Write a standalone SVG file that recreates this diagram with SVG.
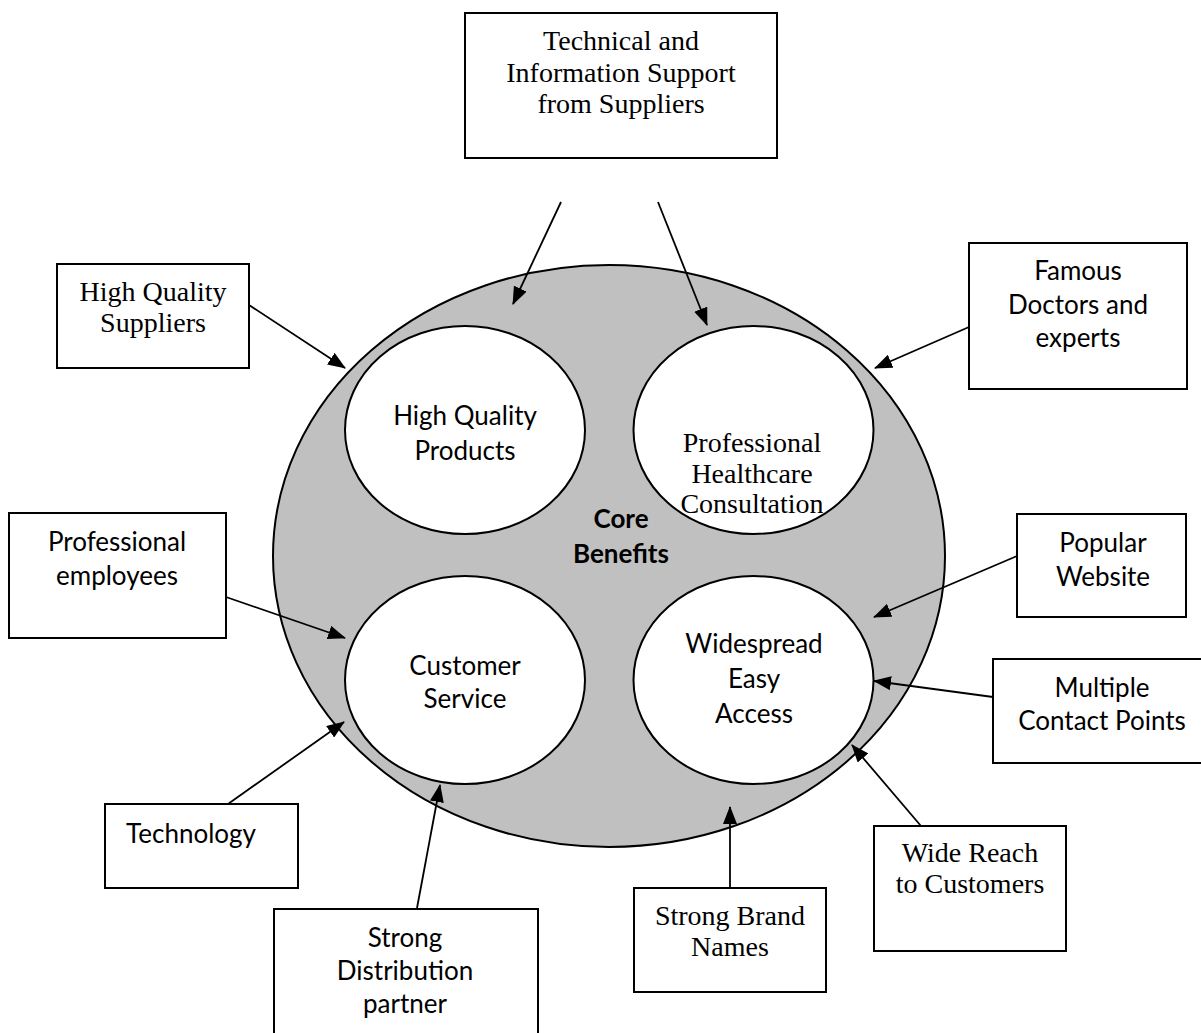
<svg xmlns="http://www.w3.org/2000/svg" width="1201" height="1033" viewBox="0 0 1201 1033">
  <style>
    .box { fill: #ffffff; stroke: #000000; stroke-width: 2; }
    .core { fill: #c0c0c0; stroke: #000000; stroke-width: 2; }
    .benefit { fill: #ffffff; stroke: #000000; stroke-width: 2; }
    .link { stroke: #000000; stroke-width: 1.8; fill: none; marker-end: url(#head); }
    .serif { font-family: "Liberation Serif", "Times New Roman", serif; font-size: 28px; fill: #000000; text-anchor: middle; }
    .sans { font-family: Lato, "Open Sans", sans-serif; font-size: 26px; fill: #000000; text-anchor: middle; }
    .bold { font-weight: bold; }
  </style>
  <defs>
    <marker id="head" viewBox="0 0 18 14" refX="17" refY="7" markerWidth="18" markerHeight="14" markerUnits="userSpaceOnUse" orient="auto">
      <path d="M0,0 L18,7 L0,14 z" fill="#000000"/>
    </marker>
  </defs>

  <rect width="1201" height="1033" fill="#ffffff"/>

  <!-- central shape with four benefit circles -->
  <g id="core-benefits">
    <ellipse class="core" cx="609" cy="556" rx="336" ry="291"/>
    <text class="sans bold" x="621" y="528">Core</text>
    <text class="sans bold" x="621" y="563">Benefits</text>
  </g>
  <g id="high-quality-products">
    <ellipse class="benefit" cx="465" cy="430" rx="120" ry="104"/>
    <text class="sans" x="465" y="425">High Quality</text>
    <text class="sans" x="465" y="460">Products</text>
  </g>
  <g id="professional-consultation">
    <ellipse class="benefit" cx="753.5" cy="430" rx="120" ry="104"/>
    <text class="serif" x="752" y="452">Professional</text>
    <text class="serif" x="752" y="483">Healthcare</text>
    <text class="serif" x="752" y="513">Consultation</text>
  </g>
  <g id="customer-service">
    <ellipse class="benefit" cx="465" cy="680" rx="120" ry="104"/>
    <text class="sans" x="465" y="675">Customer</text>
    <text class="sans" x="465" y="708">Service</text>
  </g>
  <g id="easy-access">
    <ellipse class="benefit" cx="753.5" cy="680" rx="120" ry="104"/>
    <text class="sans" x="754" y="653">Widespread</text>
    <text class="sans" x="754" y="688">Easy</text>
    <text class="sans" x="754" y="723">Access</text>
  </g>

  <!-- supporting factors -->
  <g id="supplier-support">
    <rect class="box" x="465" y="13" width="312" height="145"/>
    <text class="serif" x="621" y="50">Technical and</text>
    <text class="serif" x="621" y="82">Information Support</text>
    <text class="serif" x="621" y="113">from Suppliers</text>
  </g>
  <g id="quality-suppliers">
    <rect class="box" x="57" y="264" width="192" height="104"/>
    <text class="serif" x="153" y="301">High Quality</text>
    <text class="serif" x="153" y="332">Suppliers</text>
  </g>
  <g id="famous-doctors">
    <rect class="box" x="969" y="243" width="218" height="146"/>
    <text class="sans" x="1078" y="280">Famous</text>
    <text class="sans" x="1078" y="314">Doctors and</text>
    <text class="sans" x="1078" y="347">experts</text>
  </g>
  <g id="professional-employees">
    <rect class="box" x="9" y="513" width="217" height="125"/>
    <text class="sans" x="117" y="551">Professional</text>
    <text class="sans" x="117" y="585">employees</text>
  </g>
  <g id="popular-website">
    <rect class="box" x="1017" y="514" width="169" height="103"/>
    <text class="sans" x="1103" y="552">Popular</text>
    <text class="sans" x="1103" y="586">Website</text>
  </g>
  <g id="contact-points">
    <rect class="box" x="993" y="659" width="220" height="104"/>
    <text class="sans" x="1102" y="697">Multiple</text>
    <text class="sans" x="1102" y="730">Contact Points</text>
  </g>
  <g id="technology">
    <rect class="box" x="105" y="804" width="193" height="84"/>
    <text class="sans" x="191" y="843">Technology</text>
  </g>
  <g id="distribution-partner">
    <rect class="box" x="274" y="909" width="264" height="140"/>
    <text class="sans" x="405" y="947">Strong</text>
    <text class="sans" x="405" y="980">Distribution</text>
    <text class="sans" x="405" y="1013">partner</text>
  </g>
  <g id="brand-names">
    <rect class="box" x="634" y="888" width="192" height="104"/>
    <text class="serif" x="730" y="925">Strong Brand</text>
    <text class="serif" x="730" y="956">Names</text>
  </g>
  <g id="wide-reach">
    <rect class="box" x="874" y="826" width="192" height="125"/>
    <text class="serif" x="970" y="862">Wide Reach</text>
    <text class="serif" x="970" y="893">to Customers</text>
  </g>

  <!-- connectors -->
  <g id="connectors">
    <line class="link" x1="561" y1="202" x2="513" y2="304"/>
    <line class="link" x1="658" y1="202" x2="707" y2="325"/>
    <line class="link" x1="249" y1="305" x2="345" y2="368"/>
    <line class="link" x1="969" y1="327" x2="875" y2="368"/>
    <line class="link" x1="226" y1="597" x2="345" y2="638"/>
    <line class="link" x1="228" y1="804" x2="344" y2="722"/>
    <line class="link" x1="417" y1="908" x2="440" y2="785"/>
    <line class="link" x1="730" y1="888" x2="730" y2="807"/>
    <line class="link" x1="921" y1="826" x2="852" y2="745"/>
    <line class="link" x1="1017" y1="556" x2="874" y2="617"/>
    <line class="link" x1="993" y1="697" x2="874" y2="681"/>
  </g>
</svg>
